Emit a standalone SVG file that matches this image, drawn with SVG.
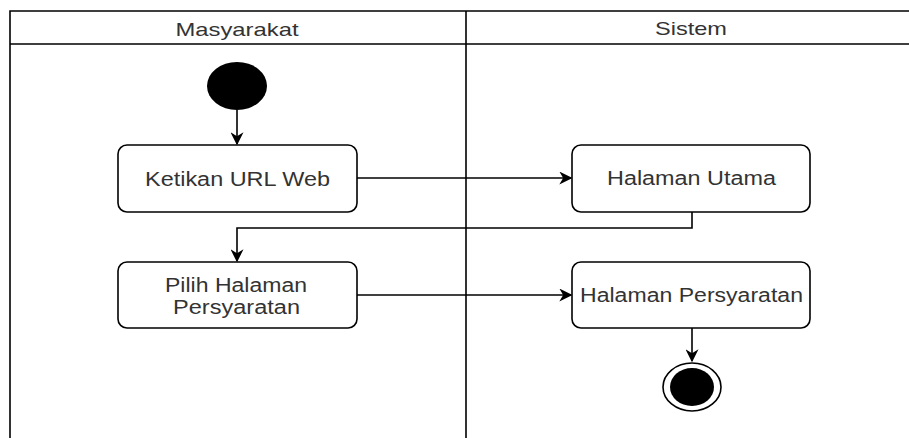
<svg xmlns="http://www.w3.org/2000/svg" width="909" height="438" viewBox="0 0 909 438">
<style>
.lane{fill:none;stroke:#000;stroke-width:1.6}
.box{fill:#fff;stroke:#000;stroke-width:1.6}
.t{font-family:"Liberation Sans",Arial,sans-serif;font-size:20px;fill:#333;text-anchor:middle}
.h{font-size:19px}
.c{fill:none;stroke:#000;stroke-width:1.6}
</style>
<defs>
<marker id="ah" viewBox="0 0 10 10" refX="9" refY="5" markerWidth="13" markerHeight="13" markerUnits="userSpaceOnUse" orient="auto">
<path d="M0,0 L10,5 L0,10 L3,5 Z" fill="#000"/>
</marker>
</defs>
<rect width="909" height="438" fill="#fff"/>
<g id="lanes">
<path class="lane" d="M10,440 V11 H910 M10,44 H910 M466,11 V440"/>
<text class="t h" x="237" y="36" textLength="123" lengthAdjust="spacingAndGlyphs">Masyarakat</text>
<text class="t h" x="691" y="35" textLength="72" lengthAdjust="spacingAndGlyphs">Sistem</text>
</g>
<g id="connectors">
<path class="c" d="M237,110 V144" marker-end="url(#ah)"/>
<path class="c" d="M357,178 H571" marker-end="url(#ah)"/>
<path class="c" d="M692,212 V228 H237 V261" marker-end="url(#ah)"/>
<path class="c" d="M357,295 H571" marker-end="url(#ah)"/>
<path class="c" d="M692,328 V361" marker-end="url(#ah)"/>
</g>
<g id="start"><ellipse cx="237" cy="86" rx="30" ry="24" fill="#000"/></g>
<g id="ketikan"><rect class="box" x="118" y="145" width="239" height="67" rx="9"/><text class="t" x="237.5" y="186" textLength="185" lengthAdjust="spacingAndGlyphs">Ketikan URL Web</text></g>
<g id="utama"><rect class="box" x="572" y="145" width="238" height="67" rx="9"/><text class="t" x="691.5" y="185" textLength="169" lengthAdjust="spacingAndGlyphs">Halaman Utama</text></g>
<g id="pilih"><rect class="box" x="118" y="262" width="239" height="66" rx="9"/><text class="t" x="236" y="292" textLength="142" lengthAdjust="spacingAndGlyphs">Pilih Halaman</text><text class="t" x="236.5" y="314" textLength="127" lengthAdjust="spacingAndGlyphs">Persyaratan</text></g>
<g id="persyaratan"><rect class="box" x="572" y="262" width="238" height="66" rx="9"/><text class="t" x="691.5" y="302" textLength="223" lengthAdjust="spacingAndGlyphs">Halaman Persyaratan</text></g>
<g id="end"><ellipse cx="692" cy="387" rx="29" ry="24" fill="#fff" stroke="#000" stroke-width="1.6"/><ellipse cx="692" cy="387" rx="22" ry="19" fill="#000"/></g>
</svg>
